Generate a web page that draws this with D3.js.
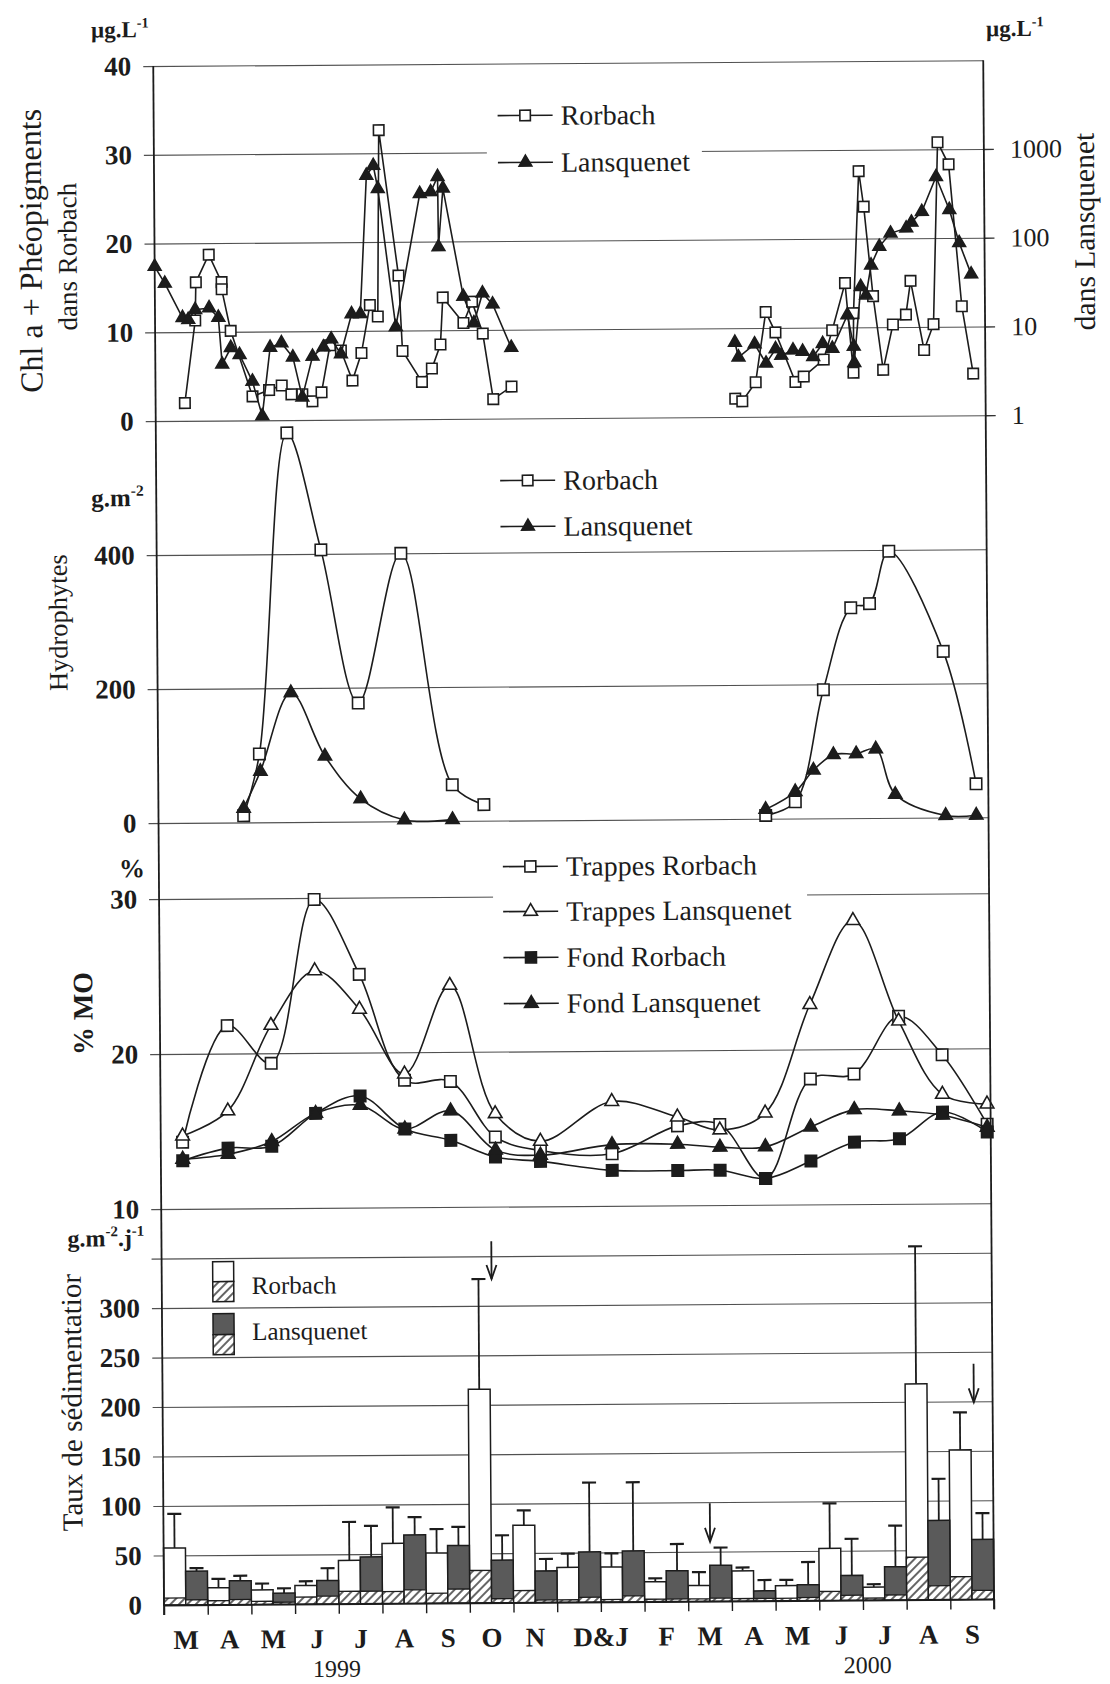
<!DOCTYPE html>
<html><head><meta charset="utf-8">
<script src="https://cdn.jsdelivr.net/npm/d3@7"></script>
<style>
body{margin:0;background:#fff}
svg{display:block}
text{font-family:"Liberation Serif","Times New Roman",serif;fill:#1c1c1c}
</style></head>
<body><svg id="c" width="1110" height="1684"></svg>
<script>
// ---------------- DATA ----------------
const months = ["M","A","M","J","J","A","S","O","N","D","J","F","M","A","M","J","J","A","S"];
const monthLabels = ["M","A","M","J","J","A","S","O","N","D&J","F","M","A","M","J","J","A","S"];
const monthLabelAt = [0.5,1.5,2.5,3.5,4.5,5.5,6.5,7.5,8.5,10,11.5,12.5,13.5,14.5,15.5,16.5,17.5,18.5];
const years = ["1999","2000"];
const yearAt = [3.95,16.1];

// Panel 1 : Chl a + pheopigments (time in months since 1 March 1999)
const chlRor99T = [0.67,0.92,0.94,1.24,1.53,1.53,1.73,2.22,2.6,2.89,3.11,3.36,3.59,3.8,4.0,4.25,4.51,4.72,4.92,5.1,5.15,5.58,5.66,6.1,6.33,6.53,6.59,7.06,7.26,7.5,7.73,8.15];
const chlRor99V = [2.0,11.3,15.6,18.7,15.6,14.8,10.1,2.7,3.4,3.9,2.9,2.9,2.1,3.1,8.4,7.8,4.4,7.5,12.9,11.6,32.6,16.2,7.7,4.2,5.7,8.4,13.7,10.8,13.2,9.6,2.2,3.6];
const chlRor00T = [13.27,13.43,13.74,13.98,14.2,14.65,14.84,15.3,15.5,15.8,15.98,15.99,16.13,16.24,16.44,16.66,16.89,17.19,17.3,17.6,17.82,17.94,18.19,18.47,18.72];
const chlRor00V = [2.06,1.76,3.9,11.8,9.5,3.9,4.5,6.4,9.7,15.0,4.9,11.6,27.6,23.6,13.5,5.2,10.3,11.4,15.2,7.4,10.3,30.8,28.3,12.3,4.7];
const chlLan99T = [0,0.23,0.63,0.76,0.92,1.24,1.45,1.53,1.73,1.93,2.22,2.44,2.63,2.89,3.15,3.36,3.6,3.85,4.03,4.25,4.5,4.7,4.86,5.02,5.12,5.51,6.08,6.33,6.49,6.5,6.61,7.06,7.3,7.5,7.73,8.15];
const chlLan99V = [55,35.5,14.5,13.8,17.8,18.6,14.5,4.3,6.6,5.5,2.75,1.12,6.6,7.4,5.1,1.8,5.2,6.6,8.1,5.5,15.5,15.5,562,724,398,11,347,363,537,87,398,24,12,26,19.5,6.3];
const chlLan00T = [13.27,13.35,13.72,13.98,14.2,14.33,14.6,14.82,15.06,15.28,15.5,15.85,15.99,16.0,16.16,16.28,16.4,16.59,16.85,17.21,17.33,17.57,17.9,18.2,18.42,18.69];
const chlLan00V = [6.9,4.7,6.6,4.0,5.8,4.9,5.6,5.4,4.7,6.6,5.8,13.8,6.1,4.0,28.7,23,50,81,114,130,151,199,490,208,88,39];

// Panel 2 : Hydrophytes (g.m-2)
const hyRor99T = [1.95,2.32,3.0,3.76,4.59,5.59,6.73,7.45];
const hyRor99V = [10,102,581,406,177,400,54,24];
const hyLan99T = [1.95,2.34,3.05,3.82,4.63,5.63,6.73];
const hyLan99V = [21,76,193,98,34,2,2];
const hyRor00T = [13.9,14.58,15.24,15.88,16.31,16.76,17.99,18.72];
const hyRor00V = [5,25,192,314,320,398,248,50];
const hyLan00T = [13.9,14.58,15.0,15.46,15.98,16.43,16.87,18.02,18.72];
const hyLan00V = [14,40,72,95,96,103,35,3,3];

// Panel 3 : % MO
const moT = [0.5,1.54,2.54,3.55,4.57,5.59,6.64,7.66,8.69,10.33,11.83,12.8,13.84,14.88,15.88,16.91,17.9,18.92];
const moTrapRor = [14.3,21.8,19.35,29.9,25.05,18.2,18.1,14.5,13.6,13.36,15.13,15.2,11.7,18.1,18.4,22.1,19.6,15.1];
const moTrapLan = [14.7,16.3,21.8,25.3,22.8,18.6,24.3,16.0,14.2,16.73,15.7,14.85,15.92,22.9,28.3,21.8,17.05,16.4];
const moFondRor = [13.1,13.9,14.0,16.1,17.2,15.05,14.3,13.2,12.9,12.29,12.25,12.25,11.7,12.8,14.0,14.2,15.9,14.6];
const moFondLan = [13.2,13.5,14.3,16.1,16.6,15.05,16.2,13.65,13.3,13.95,13.95,13.74,13.74,15.0,16.1,16.0,15.7,14.9];

// Panel 4 : sedimentation rate (g.m-2.j-1), one value per month
const rorTotal = [57.5,17,14.6,18.7,43.8,60.7,50.6,215.7,78,35.2,35.2,20,15.9,30.4,15.2,52.5,13,218,151];
const rorHatch = [7,4,3,7,12.5,12,10,32.7,12,2.4,2.4,2.4,2.4,2.4,2.4,9,2,43,23];
const rorErr   = [92,26,21,23,82.6,97,74.8,327,93,49,49,23.5,29.4,33.8,21,98,16,357,189];
const lanTotal = [34,24,11.2,23.6,47.2,69.1,58,43,31.7,50.7,51.4,31,36.2,10.1,15.9,25,33.5,80,60.5];
const lanHatch = [5,5,2,7.8,12.5,13.5,14,4,2.4,4.8,5.9,2.4,3,2.4,3,5,5,14,9];
const lanErr   = [37,29,16,36,78.5,87,76.8,68,43.8,120.7,120.7,58,54.1,21,38.9,62,75,122,87];
const arrowAt  = [7.55,12.51,18.57];
const arrowTop = [365,99,238];
const arrowTip = [327,60,199];

// ---------------- DRAWING ----------------
const svg = d3.select("#c");
const defs = svg.append("defs");
const pat = defs.append("pattern").attr("id","hatch").attr("width",6).attr("height",6)
  .attr("patternUnits","userSpaceOnUse").attr("patternTransform","rotate(45)");
pat.append("rect").attr("width",6).attr("height",6).attr("fill","#fff");
pat.append("line").attr("x1",1).attr("y1",0).attr("x2",1).attr("y2",6).attr("stroke","#333").attr("stroke-width",1.5);

const INK = "#1c1c1c";
const g = svg.append("g").attr("transform","rotate(-0.4,164,1605)");
const X0 = 164, X1 = 994;
const x  = d3.scaleLinear().domain([0,19]).range([X0,X1]);
const y1 = d3.scaleLinear().domain([0,40]).range([421,66]);
const y1r= d3.scaleLog().domain([1,10000]).range([421,66]);
const y2 = d3.scaleLinear().domain([0,600]).range([823,421]);
const y3 = d3.scaleLinear().domain([10,30]).range([1209,899]);
const y4 = d3.scaleLinear().domain([0,400]).range([1605,1209]);

// gridlines (+ left ticks)
function grid(scale, vals){
  const a = g.append("g").attr("transform",`translate(${X1},0)`)
    .call(d3.axisLeft(scale).tickValues(vals).tickSize(X1-X0+10).tickFormat(""));
  a.select(".domain").remove();
  a.selectAll("line").attr("stroke","#505050").attr("stroke-width",1.1);
}
grid(y1,[0,10,20,30,40]);
grid(y2,[0,200,400]);
grid(y3,[20,30]);
grid(y4,[50,100,150,200,250,300,350,400]);

// legend boxes behind data (interrupt gridlines)
g.append("rect").attr("x",497).attr("y",92).attr("width",215).attr("height",96).attr("fill","#fff");
g.append("rect").attr("x",498).attr("y",850).attr("width",314).attr("height",170).attr("fill","#fff");

// left labels
function leftLabels(scale, vals, fmt){
  const a = g.append("g").attr("transform",`translate(${X0},0)`)
    .call(d3.axisLeft(scale).tickValues(vals).tickSize(0).tickPadding(22).tickFormat(fmt||d3.format("d")));
  a.select(".domain").remove();
  a.selectAll("text").attr("font-size",27).attr("font-weight","bold")
    .attr("font-family","Liberation Serif").attr("fill",INK);
}
leftLabels(y1,[0,10,20,30,40]);
leftLabels(y2,[200,400]);
leftLabels(y3,[10,20,30]);
leftLabels(y4,[0,50,100,150,200,250,300]);
leftLabels(y2,[0]);

// right log axis
const ra = g.append("g").attr("transform",`translate(${X1},0)`)
  .call(d3.axisRight(y1r).tickValues([1,10,100,1000]).tickSize(10).tickPadding(16).tickFormat(d3.format("d")));
ra.select(".domain").remove();
ra.selectAll("line").attr("stroke","#333").attr("stroke-width",1.3);
ra.selectAll("text").attr("font-size",26).attr("font-family","Liberation Serif").attr("fill",INK);

// ---- Panel 4 bars ----
const bw = (x(1)-x(0))/2;
const idx = d3.range(months.length);
const bars = g.append("g");
function barSet(off, tot, hat, fill){
  bars.append("g").selectAll("rect").data(idx).join("rect")
    .attr("x",i=>x(i+off)).attr("width",bw)
    .attr("y",i=>y4(tot[i])).attr("height",i=>y4(0)-y4(tot[i]))
    .attr("fill",fill).attr("stroke",INK).attr("stroke-width",1.5);
  bars.append("g").selectAll("rect").data(idx).join("rect")
    .attr("x",i=>x(i+off)).attr("width",bw)
    .attr("y",i=>y4(hat[i])).attr("height",i=>y4(0)-y4(hat[i]))
    .attr("fill","url(#hatch)").attr("stroke",INK).attr("stroke-width",1.3);
}
function errSet(off, tot, err){
  const e = bars.append("g");
  e.selectAll("line.v").data(idx).join("line").attr("class","v")
    .attr("x1",i=>x(i+off)).attr("x2",i=>x(i+off))
    .attr("y1",i=>y4(tot[i])).attr("y2",i=>y4(err[i]))
    .attr("stroke",INK).attr("stroke-width",1.8);
  e.selectAll("line.c").data(idx).join("line").attr("class","c")
    .attr("x1",i=>x(i+off)-7).attr("x2",i=>x(i+off)+7)
    .attr("y1",i=>y4(err[i])).attr("y2",i=>y4(err[i]))
    .attr("stroke",INK).attr("stroke-width",2.2);
}
errSet(0.25, rorTotal, rorErr);
errSet(0.75, lanTotal, lanErr);
barSet(0, rorTotal, rorHatch, "#fff");
barSet(0.5, lanTotal, lanHatch, "#5a5a5a");

// arrows
arrowAt.forEach((m,i)=>{
  const ax = x(m), t = y4(arrowTop[i]), b = y4(arrowTip[i]);
  g.append("line").attr("x1",ax).attr("x2",ax).attr("y1",t).attr("y2",b).attr("stroke",INK).attr("stroke-width",1.8);
  g.append("path").attr("d",`M${ax-5},${b-14} L${ax},${b} L${ax+5},${b-14}`).attr("fill","none").attr("stroke",INK).attr("stroke-width",1.8);
});

// bar legend
g.append("rect").attr("x",215).attr("y",1262).attr("width",21).attr("height",20).attr("fill","#fff").attr("stroke",INK).attr("stroke-width",1.5);
g.append("rect").attr("x",215).attr("y",1282).attr("width",21).attr("height",20).attr("fill","url(#hatch)").attr("stroke",INK).attr("stroke-width",1.5);
g.append("rect").attr("x",215).attr("y",1314).attr("width",21).attr("height",21).attr("fill","#5a5a5a").attr("stroke",INK).attr("stroke-width",1.5);
g.append("rect").attr("x",215).attr("y",1335).attr("width",21).attr("height",20).attr("fill","url(#hatch)").attr("stroke",INK).attr("stroke-width",1.5);
g.append("text").attr("x",254).attr("y",1286).attr("dominant-baseline","central").attr("font-size",25).text("Rorbach");
g.append("text").attr("x",254).attr("y",1332).attr("dominant-baseline","central").attr("font-size",25).text("Lansquenet");

// ---- line series helpers ----
function symbolAt(sel, type, size, fill){
  return sel.attr("d", d3.symbol().type(type).size(size)()).attr("fill",fill).attr("stroke",INK).attr("stroke-width",1.6);
}
function series(T, V, xs, ys, curve, type, size, fill){
  const pts = T.map((t,i)=>[xs(t), ys(V[i])]);
  g.append("path").attr("d", d3.line().curve(curve)(pts)).attr("fill","none").attr("stroke",INK).attr("stroke-width",1.6);
  g.append("g").selectAll("path").data(pts).join("path")
    .attr("transform",d=>`translate(${d[0]},${d[1]})`)
    .call(s=>symbolAt(s,type,size,fill));
}
const lin = d3.curveLinear, smooth = d3.curveCatmullRom.alpha(0.5);

// panel 1
series(chlRor99T, chlRor99V, x, y1, lin, d3.symbolSquare, 110, "#fff");
series(chlRor00T, chlRor00V, x, y1, lin, d3.symbolSquare, 110, "#fff");
series(chlLan99T, chlLan99V, x, y1r, lin, d3.symbolTriangle, 70, INK);
series(chlLan00T, chlLan00V, x, y1r, lin, d3.symbolTriangle, 70, INK);
// panel 2
series(hyRor99T, hyRor99V, x, y2, smooth, d3.symbolSquare, 130, "#fff");
series(hyRor00T, hyRor00V, x, y2, smooth, d3.symbolSquare, 130, "#fff");
series(hyLan99T, hyLan99V, x, y2, smooth, d3.symbolTriangle, 75, INK);
series(hyLan00T, hyLan00V, x, y2, smooth, d3.symbolTriangle, 75, INK);
// panel 3
series(moT, moTrapRor, x, y3, smooth, d3.symbolSquare, 130, "#fff");
series(moT, moTrapLan, x, y3, smooth, d3.symbolTriangle, 80, "#fff");
series(moT, moFondRor, x, y3, smooth, d3.symbolSquare, 130, INK);
series(moT, moFondLan, x, y3, smooth, d3.symbolTriangle, 80, INK);

// legends for line panels
function legendRow(yc, label, type, size, fill){
  g.append("line").attr("x1",508).attr("x2",563).attr("y1",yc).attr("y2",yc).attr("stroke",INK).attr("stroke-width",1.6);
  g.append("path").attr("transform",`translate(535.5,${yc})`).call(s=>symbolAt(s,type,size,fill));
  g.append("text").attr("x",571).attr("y",yc).attr("dominant-baseline","central").attr("font-size",28).text(label);
}
legendRow(118,"Rorbach",d3.symbolSquare,110,"#fff");
legendRow(165,"Lansquenet",d3.symbolTriangle,70,INK);
legendRow(483,"Rorbach",d3.symbolSquare,110,"#fff");
legendRow(529,"Lansquenet",d3.symbolTriangle,70,INK);
legendRow(869,"Trappes Rorbach",d3.symbolSquare,120,"#fff");
legendRow(914,"Trappes Lansquenet",d3.symbolTriangle,80,"#fff");
legendRow(960,"Fond Rorbach",d3.symbolSquare,120,INK);
legendRow(1006,"Fond Lansquenet",d3.symbolTriangle,80,INK);

// axes lines
g.append("line").attr("x1",X0).attr("x2",X0).attr("y1",y1(40)).attr("y2",1615).attr("stroke",INK).attr("stroke-width",1.8);
g.append("line").attr("x1",X1).attr("x2",X1).attr("y1",y1(40)).attr("y2",1615).attr("stroke",INK).attr("stroke-width",1.8);
const xa = g.append("g").attr("transform",`translate(0,${y4(0)})`)
  .call(d3.axisBottom(x).tickValues(d3.range(0,20)).tickSize(10).tickSizeOuter(0).tickFormat(""));
xa.select(".domain").attr("stroke",INK).attr("stroke-width",1.8);
xa.selectAll("line").attr("stroke",INK).attr("stroke-width",1.4);

// month & year labels
g.append("g").selectAll("text").data(monthLabels).join("text")
  .attr("x",(d,i)=>x(monthLabelAt[i])).attr("y",1649).attr("text-anchor","middle")
  .attr("font-size",27).attr("font-weight","bold").text(d=>d);
g.append("g").selectAll("text").data(years).join("text")
  .attr("x",(d,i)=>x(yearAt[i])).attr("y",1678).attr("text-anchor","middle")
  .attr("font-size",24).text(d=>d);

// units
function unit(xp, yp, parts, fs){
  const t = g.append("text").attr("x",xp).attr("y",yp).attr("font-size",fs).attr("font-weight","bold");
  parts.forEach(p=>{
    if(p[1]) t.append("tspan").attr("font-size",fs*0.62).attr("dy",-fs*0.42).text(p[0]);
    else t.append("tspan").attr("dy",p[2]||0).text(p[0]);
  });
}
unit(102,37,[["µg.L",0],["-1",1]],23);
unit(997,42,[["µg.L",0],["-1",1]],23);
unit(99,506,[["g.m",0],["-2",1]],25);
unit(124,877,[["%",0]],26);
unit(70,1246,[["g.m",0],["-2",1],[".j",0,9.7],["-1",1]],24);

// axis titles (rotated)
function vtitle(xp, yp, txt, fs, bold){
  g.append("text").attr("transform",`translate(${xp},${yp}) rotate(-90)`)
    .attr("text-anchor","middle").attr("dominant-baseline","central")
    .attr("font-size",fs).attr("font-weight",bold?"bold":"normal").text(txt);
}
vtitle(40,250,"Chl a + Phéopigments",32);
vtitle(77,256,"dans Rorbach",27);
vtitle(1094,238,"dans Lansquenet",29.5);
vtitle(65,622,"Hydrophytes",26.5);
vtitle(87,1013,"% MO",28,true);
vtitle(73,1402,"Taux de sédimentatior",29);
</script></body></html>
